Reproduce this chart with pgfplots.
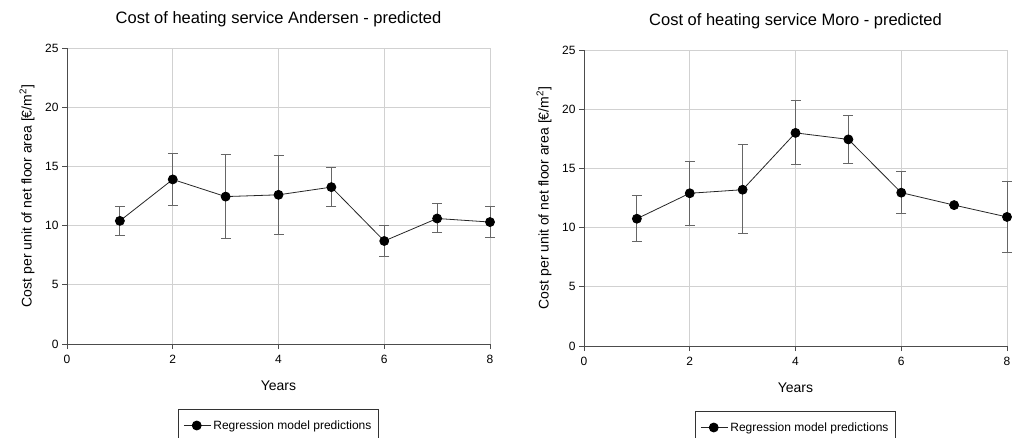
\documentclass[border=0pt]{standalone}
\usepackage{pgfplots}
\usepackage{pgfplotstable}
\pgfplotsset{compat=1.18}
\usepackage{fontspec}
\setmainfont{Liberation Sans}

\pgfplotstableread{
x y ep em
1 10.4 1.2 1.2
2 13.9 2.2 2.2
3 12.45 3.55 3.55
4 12.6 3.35 3.35
5 13.25 1.65 1.65
6 8.7 1.3 1.3
7 10.6 1.25 1.2
8 10.3 1.3 1.3
}\andersen

\pgfplotstableread{
x y ep em
1 10.75 1.95 1.95
2 12.9 2.65 2.7
3 13.2 3.8 3.7
4 18.0 2.7 2.7
5 17.45 2.05 2.05
6 12.95 1.75 1.75
7 11.9 0 0
8 10.9 3.0 3.0
}\moro

\pgfplotsset{mystyle/.style={
  scale only axis, width=423pt, height=296pt,
  xmin=0, xmax=8, ymin=0, ymax=25,
  xtick={0,2,...,8}, ytick={0,5,...,25},
  axis x line*=bottom, axis y line*=left,
  axis line style={-, black!70, line width=1pt},
  grid=major, grid style={black!18, line width=0.9pt},
  tick style={black!70, line width=0.9pt},
  tick align=outside, major tick length=5pt,
  clip=false,
  tick label style={font=\fontsize{12}{14}\selectfont},
  xticklabel style={yshift=-3pt},
  /pgf/number format/assume math mode=true,
  label style={font=\fontsize{14}{16}\selectfont},
  title style={font=\fontsize{16.5}{19}\selectfont, at={(axis description cs:0.5,1)}, anchor=base, yshift=19pt},
  xlabel={Years},
  xlabel style={at={(axis description cs:0.5,-0.142)}, anchor=center},
  ylabel={Cost per unit of net floor area [€/m\textsuperscript{2}]},
  ylabel style={at={(axis description cs:-0.0946,0.5)}, anchor=center},
  legend style={at={(axis description cs:0.5,-0.2196)}, anchor=north, draw=black!80, line width=0.8pt,
    font=\fontsize{12}{14}\selectfont, inner xsep=5pt, inner ysep=9pt},
  legend image code/.code={\draw[mark repeat=2,mark phase=2] plot coordinates {(0cm,0cm)(0.45cm,0cm)(0.95cm,0cm)};},
}}

\pgfplotsset{myplot/.style={
  black!85, line width=0.8pt, mark=*, mark size=4.5pt,
  mark options={fill=black, draw=black, solid},
  error bars/.cd, y dir=both, y explicit,
  error bar style={black!60, line width=1pt},
  error mark options={rotate=90, mark size=5pt, black!60, line width=1pt},
}}

\begin{document}
\begin{tikzpicture}
\begin{axis}[mystyle, at={(67pt,93pt)}, anchor=south west,
  title={Cost of heating service Andersen - predicted}]
\addplot[myplot] table[x=x, y=y, y error plus=ep, y error minus=em] {\andersen};
\addlegendentry{Regression model predictions}
\end{axis}
\begin{axis}[mystyle, at={(584pt,91pt)}, anchor=south west,
  title={Cost of heating service Moro - predicted}]
\addplot[myplot] table[x=x, y=y, y error plus=ep, y error minus=em] {\moro};
\addlegendentry{Regression model predictions}
\end{axis}
\pgfresetboundingbox
\useasboundingbox (0,0) rectangle (1027pt,437pt);
\end{tikzpicture}
\end{document}
